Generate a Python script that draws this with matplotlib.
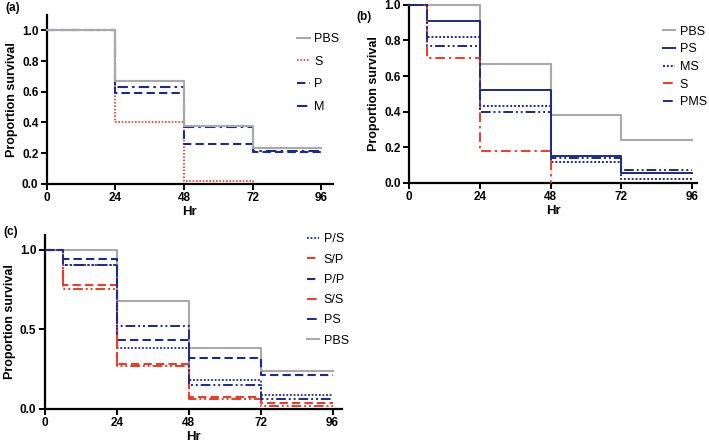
import numpy as np
import matplotlib
matplotlib.use("Agg")
import matplotlib.pyplot as plt

plt.rcParams['font.family'] = ['Liberation Sans', 'DejaVu Sans']

GRAY = '#a9a9a9'
RED = '#ee3b24'
BLUE = '#1c2a8c'

DOT = (0, (1, 1))
DASH = (0, (4, 2))
DASHDOT = (0, (5, 2, 1.2, 2))
DASHDOTDOT = (0, (5, 1.5, 1, 1.5, 1, 1.5))

# panel (a)
t_a = [0, 24, 48, 72, 96]
a_pbs = [1.0, 0.67, 0.38, 0.235, 0.235]
a_s_t = [0, 24, 48, 72]
a_s = [1.0, 0.40, 0.02, 0.0]
a_p = [1.0, 0.595, 0.26, 0.21, 0.21]
a_m = [1.0, 0.63, 0.37, 0.215, 0.215]

# panel (b)
t_b = [0, 6, 24, 48, 72, 96]
b_pbs_t = [0, 24, 48, 72, 96]
b_pbs = [1.0, 0.67, 0.38, 0.24, 0.24]
b_ps = [1.0, 0.91, 0.52, 0.15, 0.055, 0.055]
b_ms = [1.0, 0.82, 0.43, 0.115, 0.02, 0.02]
b_s_t = [0, 6, 24, 48]
b_s = [1.0, 0.70, 0.18, 0.0]
b_pms = [1.0, 0.77, 0.40, 0.14, 0.075, 0.075]

# panel (c)
t_c = [0, 6, 24, 48, 72, 96]
c_pbs_t = [0, 24, 48, 72, 96]
c_pbs = [1.0, 0.675, 0.385, 0.24, 0.24]
c_p_s = [1.0, 0.905, 0.38, 0.18, 0.085, 0.085]
c_s_p = [1.0, 0.78, 0.28, 0.075, 0.04, 0.04]
c_p_p = [1.0, 0.945, 0.435, 0.32, 0.21, 0.21]
c_s_s = [1.0, 0.755, 0.27, 0.06, 0.02, 0.02]
c_ps = [1.0, 0.905, 0.52, 0.15, 0.06, 0.06]

fig = plt.figure(figsize=(7.09, 4.43), dpi=100)
ax_a = fig.add_axes([0.066, 0.585, 0.403, 0.381])
ax_b = fig.add_axes([0.577, 0.587, 0.406, 0.402])
ax_c = fig.add_axes([0.063, 0.077, 0.420, 0.393])


def style(ax, xmax, ymax, yticks):
    ax.set_xlim(0, xmax)
    ax.set_ylim(0, ymax)
    ax.set_xticks([0, 24, 48, 72, 96])
    ax.set_yticks(yticks)
    ax.set_yticklabels(['%.1f' % v for v in yticks])
    for s in ['top', 'right']:
        ax.spines[s].set_visible(False)
    for s in ['left', 'bottom']:
        ax.spines[s].set_linewidth(1.6)
    ax.tick_params(width=1.4, length=4, labelsize=8.5, pad=2)
    for lab in ax.get_xticklabels() + ax.get_yticklabels():
        lab.set_fontweight('bold')
    ax.set_xlabel('Hr', fontsize=9.5, fontweight='bold', labelpad=1)
    ax.set_ylabel('Proportion survival', fontsize=9, fontweight='bold', labelpad=3)


def curve(ax, t, v, color, ls, lw=1.4, z=2, label=None):
    ax.step(t, v, where='post', color=color, linestyle=ls, lw=lw, zorder=z,
            label=label, clip_on=False)


def legend(ax, x, y, spacing):
    leg = ax.legend(loc='upper left', bbox_to_anchor=(x, y),
                    bbox_transform=fig.transFigure, frameon=False, fontsize=9,
                    handlelength=1.0, handletextpad=0.35, labelspacing=spacing,
                    borderaxespad=0, borderpad=0)
    return leg


# (a)
curve(ax_a, t_a, a_pbs, GRAY, '-', lw=1.5, z=4, label='PBS')
curve(ax_a, a_s_t, a_s, RED, DOT, lw=1.2, z=3, label='S')
curve(ax_a, t_a, a_p, BLUE, DASH, lw=1.5, z=3, label='P')
curve(ax_a, t_a, a_m, BLUE, DASHDOT, lw=1.5, z=3, label='M')
style(ax_a, 100, 1.1, [0.0, 0.2, 0.4, 0.6, 0.8, 1.0])
legend(ax_a, 0.419, 0.925, 0.85)

# (b)
curve(ax_b, b_pbs_t, b_pbs, GRAY, '-', lw=1.5, z=2, label='PBS')
curve(ax_b, t_b, b_ps, BLUE, '-', lw=1.4, z=3, label='PS')
curve(ax_b, t_b, b_ms, BLUE, DOT, lw=1.4, z=3, label='MS')
curve(ax_b, b_s_t, b_s, RED, DASHDOT, lw=1.4, z=3, label='S')
curve(ax_b, t_b, b_pms, BLUE, DASHDOTDOT, lw=1.4, z=3, label='PMS')
style(ax_b, 97.7, 1.0, [0.0, 0.2, 0.4, 0.6, 0.8, 1.0])
legend(ax_b, 0.935, 0.942, 0.45)

# (c)
curve(ax_c, t_c, c_p_s, BLUE, DOT, lw=1.3, z=3, label='P/S')
curve(ax_c, t_c, c_s_p, RED, DASH, lw=1.5, z=3, label='S/P')
curve(ax_c, t_c, c_p_p, BLUE, DASH, lw=1.5, z=3, label='P/P')
curve(ax_c, t_c, c_s_s, RED, DASHDOTDOT, lw=1.4, z=3, label='S/S')
curve(ax_c, t_c, c_ps, BLUE, DASHDOTDOT, lw=1.4, z=3, label='PS')
curve(ax_c, c_pbs_t, c_pbs, GRAY, '-', lw=1.5, z=2, label='PBS')
style(ax_c, 99.3, 1.094, [0.0, 0.5, 1.0])
legend(ax_c, 0.433, 0.473, 0.66)

fig.text(0.007, 0.982, '(a)', fontsize=8.5, fontweight='bold', va='center')
fig.text(0.503, 0.962, '(b)', fontsize=8.5, fontweight='bold', va='center')
fig.text(0.005, 0.477, '(c)', fontsize=8.5, fontweight='bold', va='center')

fig.savefig('out.png', dpi=100)
